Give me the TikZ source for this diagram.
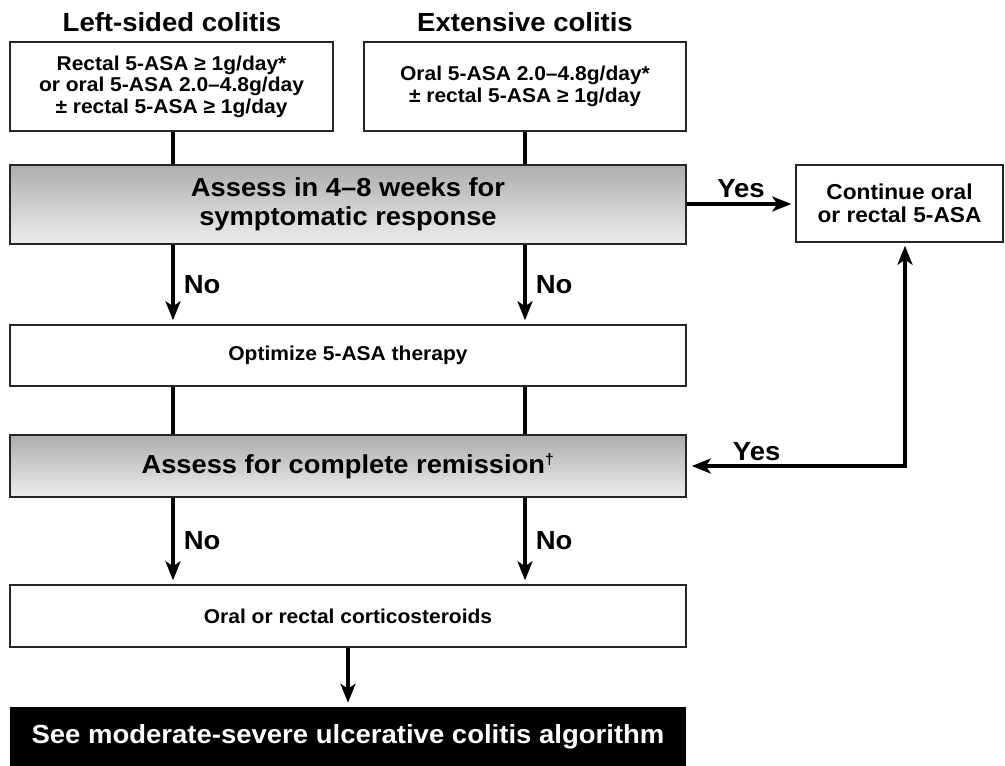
\documentclass[tikz,border=0pt]{standalone}
\usepackage{fontspec}
\setmainfont{Liberation Sans}[FakeStretch=1.05]
\usetikzlibrary{arrows.meta,positioning,calc}

\begin{document}
\begin{tikzpicture}[
    x=1pt, y=-1pt,
    box/.style={rectangle, draw=black!85, line width=1.4pt, fill=white,
                inner sep=2pt, align=center, font=\bfseries\fontsize{20}{21.5}\selectfont},
    gbox/.style={rectangle, draw=black!85, line width=1.6pt, top color=black!32, bottom color=black!7,
                 inner sep=2pt, align=center, font=\bfseries\fontsize{26}{29}\selectfont},
    bbox/.style={rectangle, fill=black, text=white, inner sep=2pt,
                 align=center, font=\bfseries\fontsize{26.2}{29}\selectfont},
    ttl/.style={font=\bfseries\fontsize{26.2}{29}\selectfont},
    lbl/.style={font=\bfseries\fontsize{26.2}{29}\selectfont, inner sep=1pt},
    link/.style={line width=3.5pt, black},
    tip/.tip={Stealth[length=19pt, width=15pt, inset=5pt]},
    arr/.style={link, -tip, shorten >=4pt}
]
    \useasboundingbox (0,0) rectangle (1005,766);

    % Column headings
    \node[ttl] (ttlL) at (172,22) {Left-sided colitis};
    \node[ttl] (ttlE) at (525,22) {Extensive colitis};

    % Starting therapy
    \node[box, minimum width=323pt, minimum height=89pt] (lsd) at (171.5,86.5)
        {Rectal 5-ASA ≥ 1g/day*\\or oral 5-ASA 2.0–4.8g/day\\± rectal 5-ASA ≥ 1g/day};
    \node[box, minimum width=322pt, minimum height=89pt] (ext) at (525,86.5)
        {Oral 5-ASA 2.0–4.8g/day*\\± rectal 5-ASA ≥ 1g/day};

    % Decision steps
    \node[gbox, minimum width=676pt, minimum height=79pt] (resp) at (348,204.5)
        {Assess in 4–8 weeks for\\symptomatic response};
    \node[box, font=\bfseries\fontsize{21.6}{22.5}\selectfont, minimum width=207pt, minimum height=77pt] (cont) at (899.5,203.5)
        {Continue oral\\or rectal 5-ASA};
    \node[box, minimum width=676pt, minimum height=61pt] (opt) at (348,355.5)
        {Optimize 5-ASA therapy};
    \node[gbox, minimum width=676pt, minimum height=62pt] (remis) at (348,466)
        {Assess for complete remission\textsuperscript{\fontsize{15}{15}\selectfont †}};
    \node[box, minimum width=676pt, minimum height=62pt] (cort) at (348,616)
        {Oral or rectal corticosteroids};
    \node[bbox, minimum width=676pt, minimum height=59pt] (algo) at (348,736.5)
        {See moderate-severe ulcerative colitis algorithm};

    % Connectors
    \draw[link] (lsd.south -| 173,0) -- (resp.north -| 173,0);
    \draw[link] (ext.south) -- (ext.south |- resp.north);
    \draw[arr] (resp.south -| 173,0) -- (opt.north -| 173,0)
        node[lbl, midway, right=8pt] {No};
    \draw[arr] (resp.south -| ext) -- (opt.north -| ext)
        node[lbl, midway, right=8pt] {No};
    \draw[link] (opt.south -| 173,0) -- (remis.north -| 173,0);
    \draw[link] (opt.south -| ext) -- (remis.north -| ext);
    \draw[arr] (remis.south -| 173,0) -- (cort.north -| 173,0)
        node[lbl, midway, right=8pt] {No};
    \draw[arr] (remis.south -| ext) -- (cort.north -| ext)
        node[lbl, midway, right=8pt] {No};
    \draw[arr] (cort) -- (algo);
    \draw[arr] (resp.east |- 0,204) -- (cont.west |- 0,204)
        node[lbl, midway, above=3pt] {Yes};
    \draw[link, tip-tip, shorten <=5pt, shorten >=3pt] (remis.east) -| (905,0 |- cont.south)
        node[lbl, pos=0.16, above=3pt] {Yes};
\end{tikzpicture}
\end{document}
